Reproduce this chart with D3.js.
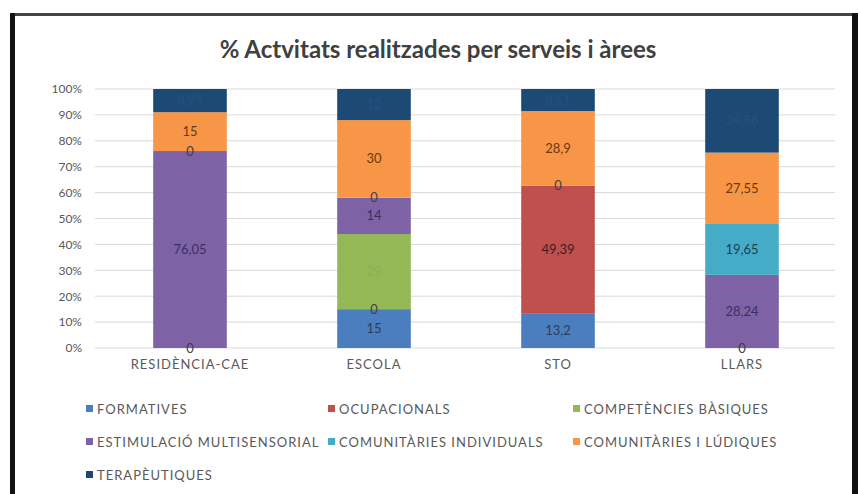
<!DOCTYPE html>
<html>
<head>
<meta charset="utf-8">
<script src="https://cdn.jsdelivr.net/npm/d3@7"></script>
<style>
  body { margin: 0; background: #fff; }
  #chart text { font-family: Lato, "Open Sans", sans-serif; }
</style>
</head>
<body>
<div id="chart"></div>
<script>
// categories and series (values as in the data labels)
const categories = ["RESIDÈNCIA-CAE", "ESCOLA", "STO", "LLARS"];
const seriesNames = ["FORMATIVES", "OCUPACIONALS", "COMPETÈNCIES BÀSIQUES",
  "ESTIMULACIÓ MULTISENSORIAL", "COMUNITÀRIES INDIVIDUALS",
  "COMUNITÀRIES I LÚDIQUES", "TERAPÈUTIQUES"];
const formatives = [0, 15, 13.2, 0];
const ocupacionals = [0, 0, 49.39, 0];
const competencies = [0, 29, 0, 0];
const estimulacio = [76.05, 14, 0, 28.24];
const comIndividuals = [0, 0, 0, 19.65];
const comLudiques = [15, 30, 28.9, 27.55];
const terapeutiques = [8.95, 12, 8.51, 24.56];
const yTicks = [0, 0.1, 0.2, 0.3, 0.4, 0.5, 0.6, 0.7, 0.8, 0.9, 1];

const seriesValues = [formatives, ocupacionals, competencies, estimulacio,
  comIndividuals, comLudiques, terapeutiques];
const colors = ["#4a7ebf", "#c0504d", "#93b957", "#7e62a6", "#45acc8", "#f79646", "#1d4a75"];
// label colours: the green and navy labels are barely readable in the original
const labelColors = ["#2d3d55", "#3a2222", "#8cb152", "#3a3060", "#1f3d55", "#6a3a12", "#24507e"];

const width = 860, height = 494;
const svg = d3.select("#chart").append("svg")
  .attr("width", width).attr("height", height);

// frame
svg.append("rect").attr("x", 10).attr("y", 13).attr("width", 848).attr("height", 3).attr("fill", "#444");
svg.append("rect").attr("x", 10).attr("y", 13).attr("width", 5).attr("height", height).attr("fill", "#111");
svg.append("rect").attr("x", 852).attr("y", 13).attr("width", 6).attr("height", height).attr("fill", "#111");

svg.append("text")
  .attr("x", 438).attr("y", 58)
  .attr("text-anchor", "middle")
  .attr("font-size", 24)
  .attr("font-weight", "bold")
  .attr("fill", "#404040")
  .text("% Actvitats realitzades per serveis i àrees");

const x = d3.scaleBand().domain(categories).range([98, 834]).paddingInner(0.6).paddingOuter(0.3);
const y = d3.scaleLinear().domain([0, 1]).range([348, 89]);

// gridlines
svg.append("g").selectAll("line").data(yTicks).join("line")
  .attr("x1", 95).attr("x2", 835)
  .attr("y1", d => y(d)).attr("y2", d => y(d))
  .attr("stroke", "#d9d9d9").attr("stroke-width", 1);

const yAxis = svg.append("g")
  .attr("transform", "translate(85,0)")
  .call(d3.axisLeft(y).tickValues(yTicks).tickFormat(d3.format(".0%")).tickSize(0).tickPadding(3));
yAxis.select(".domain").remove();
yAxis.selectAll("text").attr("font-size", 12).attr("fill", "#595959");

const xAxis = svg.append("g")
  .attr("transform", "translate(0,348)")
  .call(d3.axisBottom(x).tickSize(0).tickPadding(12));
xAxis.select(".domain").remove();
xAxis.selectAll("text").attr("font-size", 13).attr("letter-spacing", 1).attr("fill", "#595959");

// stacked 100%
const rows = categories.map((c, i) => {
  const r = {cat: c};
  seriesNames.forEach((s, j) => { r[s] = seriesValues[j][i]; });
  return r;
});
const stacked = d3.stack().keys(seriesNames).offset(d3.stackOffsetExpand)(rows);

const layers = svg.append("g").selectAll("g").data(stacked).join("g")
  .attr("fill", (d, i) => colors[i]);
layers.selectAll("rect").data(d => d).join("rect")
  .attr("x", d => x(d.data.cat))
  .attr("width", x.bandwidth())
  .attr("y", d => y(d[1]))
  .attr("height", d => y(d[0]) - y(d[1]));

// data labels (zero labels sitting on the same spot are drawn once)
const seen = new Set();
stacked.forEach((layer, i) => {
  const pts = layer.filter(d => {
    const key = d.data.cat + "|" + d[0].toFixed(4) + "|" + d[1].toFixed(4);
    if (seen.has(key)) return false;
    seen.add(key);
    return true;
  });
  svg.append("g").selectAll("text").data(pts).join("text")
    .attr("x", d => x(d.data.cat) + x.bandwidth() / 2)
    .attr("y", d => y((d[0] + d[1]) / 2) + 4.5)
    .attr("text-anchor", "middle")
    .attr("font-size", 13)
    .attr("fill", d => d.data[layer.key] === 0 ? "#404040" : labelColors[i])
    .text(d => String(d.data[layer.key]).replace(".", ","));
});

// legend
const legendPos = [[86, 409], [328, 409], [573, 409], [86, 442], [328, 442], [573, 442], [86, 475]];
const legend = svg.append("g").selectAll("g").data(seriesNames).join("g")
  .attr("transform", (d, i) => `translate(${legendPos[i][0]},${legendPos[i][1]})`);
legend.append("rect").attr("x", 0).attr("y", -4).attr("width", 7).attr("height", 7)
  .attr("fill", (d, i) => colors[i]);
legend.append("text").attr("x", 11).attr("y", 4.5)
  .attr("font-size", 13).attr("letter-spacing", 1).attr("fill", "#595959")
  .text(d => d);
</script>
</body>
</html>
